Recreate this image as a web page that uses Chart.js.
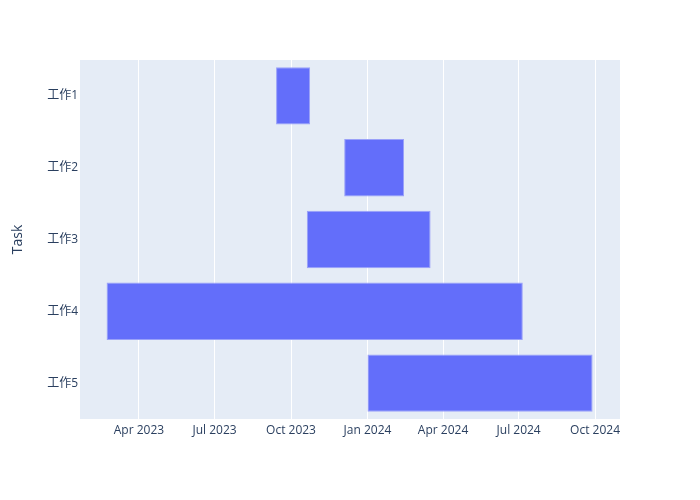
<!DOCTYPE html>
<html>
<head>
<meta charset="utf-8">
<script src="https://cdn.jsdelivr.net/npm/chart.js@4/dist/chart.umd.min.js"></script>
<style>
  html, body { margin: 0; padding: 0; background: #fff; }
  #wrap { width: 700px; height: 500px; }
</style>
</head>
<body>
<div id="wrap"><canvas id="chart_gantt"></canvas></div>
<script>
var tasks = ['工作1', '工作2', '工作3', '工作4', '工作5']
var startDates = ['2023-09-13', '2023-12-04', '2023-10-20', '2023-02-21', '2024-01-01']
var endDates = ['2023-10-24', '2024-02-14', '2024-03-17', '2024-07-06', '2024-09-28']
var tickDates = ['2023-04-01', '2023-07-01', '2023-10-01', '2024-01-01', '2024-04-01', '2024-07-01', '2024-10-01']
var tickLabels = ['Apr 2023', 'Jul 2023', 'Oct 2023', 'Jan 2024', 'Apr 2024', 'Jul 2024', 'Oct 2024']

function ts(d) { return new Date(d + 'T00:00:00Z').getTime() }

var ranges = startDates.map(function (s, i) { return [ts(s), ts(endDates[i])] })
var tickValues = tickDates.map(ts)

var fontFamily = '"Open Sans", "Noto Sans CJK SC", "DejaVu Sans", sans-serif'
var textColor = '#2a3f5f'

var plotBg = {
    id: 'plotBg',
    beforeDraw: function (chart) {
        var a = chart.chartArea
        var c = chart.ctx
        c.save()
        c.fillStyle = '#E5ECF6'
        c.fillRect(a.left, a.top, a.right - a.left, a.bottom - a.top)
        c.restore()
    }
}

var ctx = document.getElementById('chart_gantt')

var chart_gantt = new Chart(ctx, {
    type: 'bar',
    data: {
        labels: tasks,
        datasets: [{
            data: ranges,
            backgroundColor: '#636efa',
            borderColor: '#9aa1f9',
            borderWidth: 1,
            borderSkipped: false,
            categoryPercentage: 1.0,
            barPercentage: 0.8
        }]
    },
    plugins: [plotBg],
    options: {
        indexAxis: 'y',
        responsive: true,
        maintainAspectRatio: false,
        animation: false,
        layout: { padding: { top: 60, right: 80, bottom: 0, left: 0 } },
        plugins: {
            legend: { display: false },
            tooltip: { enabled: false }
        },
        scales: {
            x: {
                type: 'linear',
                min: ts('2023-01-20'),
                max: ts('2024-10-31'),
                afterBuildTicks: function (scale) {
                    scale.ticks = tickValues.map(function (v) { return { value: v } })
                },
                afterFit: function (scale) { scale.height = 81 },
                grid: { color: '#ffffff', lineWidth: 1, drawTicks: false },
                border: { display: false },
                ticks: {
                    padding: 4,
                    maxRotation: 0,
                    autoSkip: false,
                    color: textColor,
                    font: { family: fontFamily, size: 12 },
                    callback: function (v) {
                        var i = tickValues.indexOf(v)
                        return i >= 0 ? tickLabels[i] : ''
                    }
                }
            },
            y: {
                afterFit: function (scale) { scale.width = 80 },
                grid: { display: false, drawTicks: false },
                border: { display: false },
                ticks: {
                    padding: 2,
                    color: textColor,
                    font: { family: fontFamily, size: 12 }
                },
                title: {
                    display: true,
                    text: 'Task',
                    color: textColor,
                    padding: { top: 10, bottom: 0 },
                    font: { family: fontFamily, size: 14 }
                }
            }
        }
    }
})
</script>
</body>
</html>
